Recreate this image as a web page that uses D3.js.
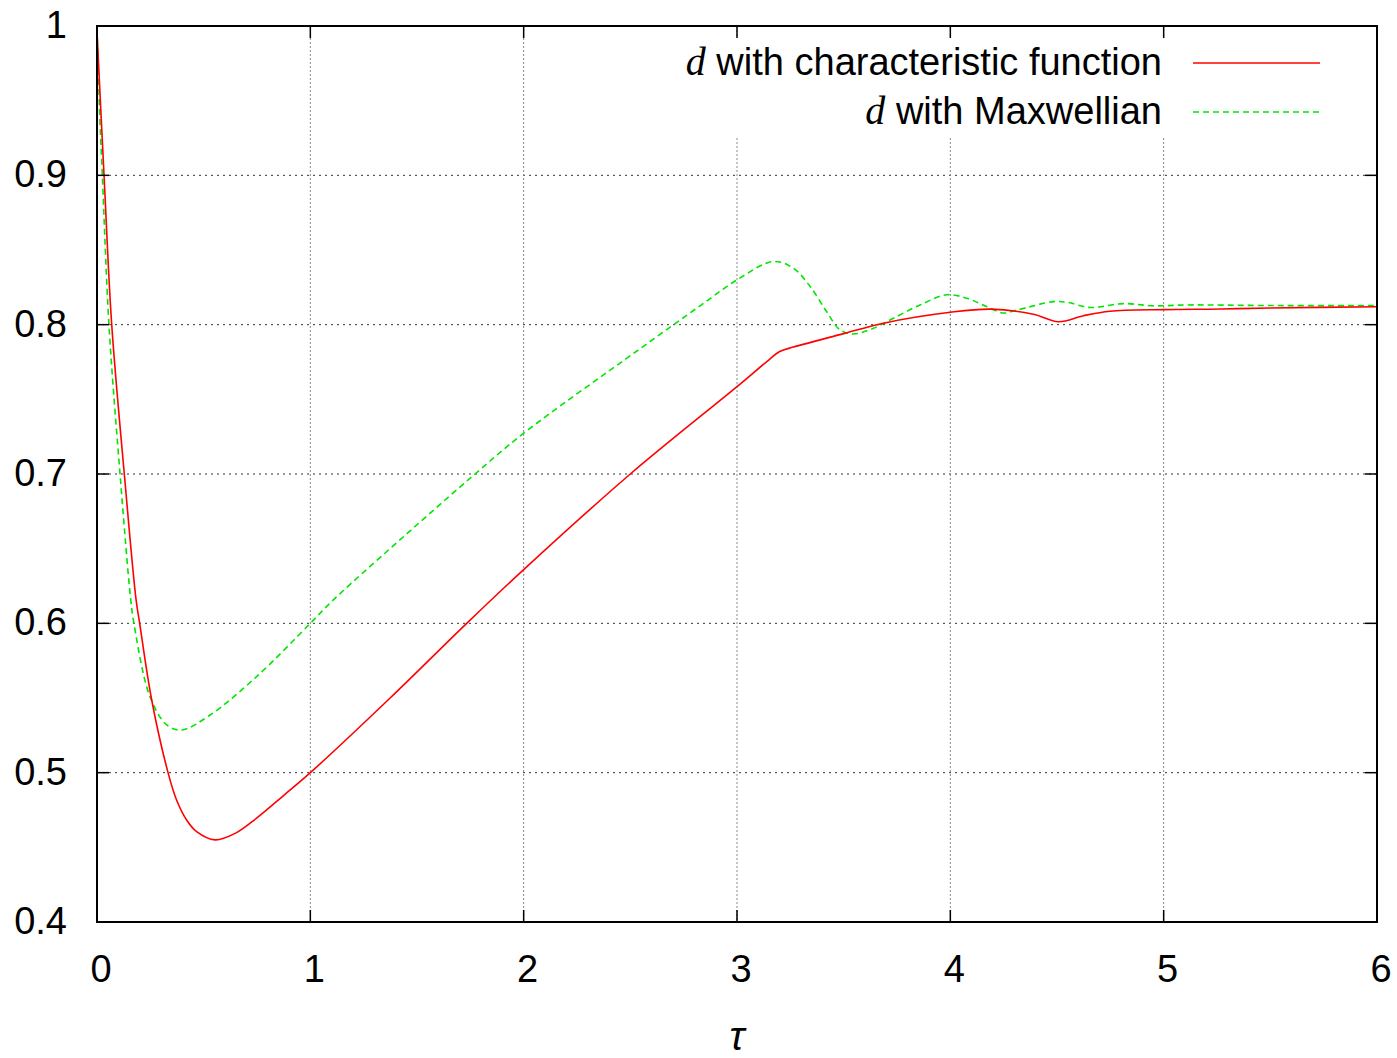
<!DOCTYPE html>
<html>
<head>
<meta charset="utf-8">
<script src="https://cdn.jsdelivr.net/npm/d3@7"></script>
<style>
  body { margin: 0; background: #fff; }
  svg { display: block; }
  text { font-family: "Liberation Sans", Arial, sans-serif; }
</style>
</head>
<body>
<div id="chart"></div>
<script>
// red curve: d with characteristic function
const tauChar = [0, 0.033, 0.069, 0.128, 0.183, 0.2, 0.256, 0.333, 0.373, 0.42, 0.467, 0.553, 0.65, 0.748, 0.873, 1.0, 1.374, 1.733, 2.0, 2.5, 3.0, 3.15, 3.2, 3.264, 3.5, 3.686, 4.0, 4.19, 4.389, 4.507, 4.624, 4.749, 5.0, 5.265, 5.5, 6.0];
const dChar = [0.996, 0.9, 0.8, 0.7, 0.616, 0.6, 0.549, 0.5, 0.4817, 0.4683, 0.4605, 0.455, 0.4595, 0.4695, 0.4845, 0.5, 0.55, 0.6, 0.636, 0.7, 0.7585, 0.7765, 0.782, 0.785, 0.794, 0.801, 0.8083, 0.8104, 0.807, 0.802, 0.806, 0.809, 0.8101, 0.8105, 0.8112, 0.812];

// green curve: d with Maxwellian
const tauMax = [0, 0.014, 0.025, 0.056, 0.108, 0.158, 0.173, 0.248, 0.327, 0.397, 0.53, 0.748, 1.0, 1.108, 1.5, 1.772, 2.0, 2.538, 2.827, 3.0, 3.17, 3.264, 3.343, 3.42, 3.483, 3.546, 3.64, 3.733, 3.858, 3.983, 4.077, 4.17, 4.25, 4.312, 4.484, 4.547, 4.655, 4.811, 4.952, 5.108, 5.5, 6.0];
const dMax = [0.998, 0.936, 0.9, 0.8, 0.7, 0.616, 0.6, 0.551, 0.532, 0.5286, 0.5386, 0.5643, 0.6, 0.6157, 0.666, 0.7, 0.7273, 0.7831, 0.8126, 0.83, 0.8423, 0.8378, 0.8255, 0.8088, 0.7965, 0.7938, 0.7976, 0.8043, 0.8132, 0.82, 0.8177, 0.8121, 0.8078, 0.8098, 0.8154, 0.815, 0.8115, 0.8141, 0.8126, 0.8132, 0.8128, 0.8128];

const xTicks = [0, 1, 2, 3, 4, 5, 6];
const yTicks = [0.4, 0.5, 0.6, 0.7, 0.8, 0.9, 1];
const legendLabels = ["with characteristic function", "with Maxwellian"];

const width = 1397, height = 1058;
const m = { left: 97, right: 1377, top: 26, bottom: 922 };

const svg = d3.select('#chart').append('svg')
  .attr('width', width)
  .attr('height', height);

const x = d3.scaleLinear().domain([0, 6]).range([m.left, m.right]);
const y = d3.scaleLinear().domain([0.4, 1]).range([m.bottom, m.top]);

// grid
svg.append('g').selectAll('line')
  .data(yTicks.filter(d => d > 0.4 && d < 1))
  .join('line')
  .attr('x1', m.left).attr('x2', m.right)
  .attr('y1', d => y(d)).attr('y2', d => y(d))
  .attr('stroke', '#333').attr('stroke-width', 1)
  .attr('stroke-dasharray', '2,4');

svg.append('g').selectAll('line')
  .data(xTicks.filter(d => d > 0 && d < 6))
  .join('line')
  .attr('x1', d => x(d)).attr('x2', d => x(d))
  .attr('y1', m.top).attr('y2', m.bottom)
  .attr('stroke', '#888').attr('stroke-width', 1)
  .attr('stroke-dasharray', '2,2');

// opaque key box
svg.append('rect')
  .attr('x', 668).attr('y', 36)
  .attr('width', 668).attr('height', 100)
  .attr('fill', '#fff');

// curves
const line = d3.line()
  .x(d => x(d[0]))
  .y(d => y(d[1]))
  .curve(d3.curveCatmullRom.alpha(0.5));

svg.append('clipPath').attr('id', 'plotclip')
  .append('rect')
  .attr('x', m.left).attr('y', m.top)
  .attr('width', m.right - m.left).attr('height', m.bottom - m.top);

svg.append('path')
  .datum(tauMax.map((t, i) => [t, dMax[i]]))
  .attr('clip-path', 'url(#plotclip)')
  .attr('fill', 'none')
  .attr('stroke', '#00e600')
  .attr('stroke-width', 1.6)
  .attr('stroke-dasharray', '6,4')
  .attr('d', line);

svg.append('path')
  .datum(tauChar.map((t, i) => [t, dChar[i]]))
  .attr('clip-path', 'url(#plotclip)')
  .attr('fill', 'none')
  .attr('stroke', '#ff0000')
  .attr('stroke-width', 1.6)
  .attr('d', line);

// ticks on all four sides, pointing inward
const tl = 12;
const ticks = svg.append('g').attr('stroke', '#000').attr('stroke-width', 1.5);
xTicks.forEach(t => {
  ticks.append('line').attr('x1', x(t)).attr('x2', x(t)).attr('y1', m.bottom).attr('y2', m.bottom - tl);
  ticks.append('line').attr('x1', x(t)).attr('x2', x(t)).attr('y1', m.top).attr('y2', m.top + tl);
});
yTicks.forEach(t => {
  ticks.append('line').attr('x1', m.left).attr('x2', m.left + tl).attr('y1', y(t)).attr('y2', y(t));
  ticks.append('line').attr('x1', m.right).attr('x2', m.right - tl).attr('y1', y(t)).attr('y2', y(t));
});

// border
svg.append('rect')
  .attr('x', m.left).attr('y', m.top)
  .attr('width', m.right - m.left).attr('height', m.bottom - m.top)
  .attr('fill', 'none')
  .attr('stroke', '#000')
  .attr('stroke-width', 2);

// tick labels
svg.append('g').selectAll('text')
  .data(xTicks)
  .join('text')
  .attr('x', d => x(d) + 4)
  .attr('y', 982)
  .attr('text-anchor', 'middle')
  .attr('font-size', 38)
  .text(d => d);

svg.append('g').selectAll('text')
  .data(yTicks)
  .join('text')
  .attr('x', 67)
  .attr('y', d => y(d) + 12)
  .attr('text-anchor', 'end')
  .attr('font-size', 38)
  .text(d => d);

// axis title
svg.append('text')
  .attr('x', x(3))
  .attr('y', 1050)
  .attr('text-anchor', 'middle')
  .attr('font-family', '"Liberation Serif", serif')
  .attr('font-style', 'italic')
  .attr('font-size', 40)
  .text('τ');

// legend
const legendColors = ['#ff0000', '#00e600'];
const legendDash = [null, '6,4'];
const legendY = [63, 112];
legendLabels.forEach((lab, i) => {
  const t = svg.append('text')
    .attr('x', 1162)
    .attr('y', legendY[i] + 12)
    .attr('text-anchor', 'end')
    .attr('font-size', 38);
  t.append('tspan')
    .attr('font-family', '"Liberation Serif", serif')
    .attr('font-style', 'italic')
    .attr('font-size', 40)
    .text('d');
  t.append('tspan').text(' ' + lab);
  svg.append('line')
    .attr('x1', 1193).attr('x2', 1320)
    .attr('y1', legendY[i]).attr('y2', legendY[i])
    .attr('stroke', legendColors[i])
    .attr('stroke-width', 1.6)
    .attr('stroke-dasharray', legendDash[i]);
});
</script>
</body>
</html>
